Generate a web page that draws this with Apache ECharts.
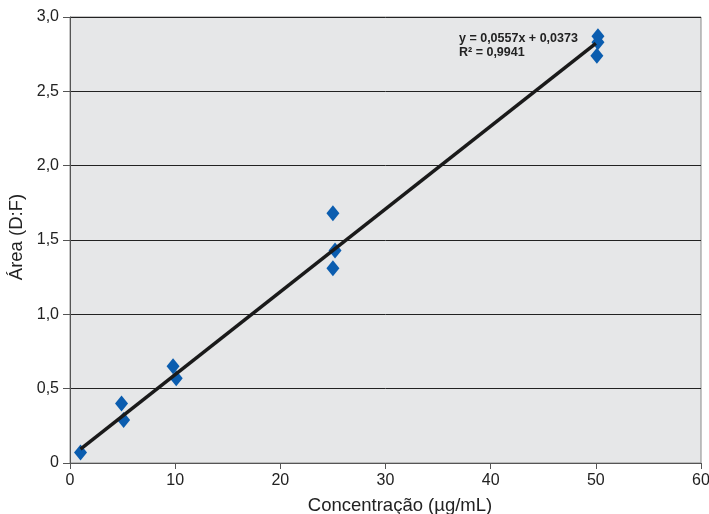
<!DOCTYPE html>
<html><head><meta charset="utf-8">
<script src="https://cdn.jsdelivr.net/npm/echarts@6/dist/echarts.min.js"></script>
<style>html,body{margin:0;padding:0;background:#fff}#c{width:709px;height:514px}</style>
</head><body><div id="c"></div>
<script>
const concX = [1.0, 4.9, 5.1, 9.8, 10.1, 25.0, 25.2, 25.0, 50.2, 50.2, 50.1];
const areaY = [0.07, 0.40, 0.29, 0.65, 0.57, 1.68, 1.43, 1.31, 2.87, 2.83, 2.74];
const slope = 0.0557, intercept = 0.0373;
const trendX = [1, 50];
const eqLines = ['y = 0,0557x + 0,0373', 'R² = 0,9941'];
const xTitle = 'Concentração (µg/mL)';
const yTitle = 'Área (D:F)';

const pts = concX.map((x, i) => [x, areaY[i]]);
const trend = trendX.map(x => [x, slope * x + intercept]);
const font = '"Liberation Sans", Arial, sans-serif';
const chart = echarts.init(document.getElementById('c'));
chart.setOption({
  animation: false,
  grid: { left: 70, right: 8, top: 17, bottom: 51, outerBoundsMode: 'none', containLabel: false,
    show: true, backgroundColor: '#e6e7e8', borderColor: '#8a8a8a', borderWidth: 1 },
  xAxis: {
    type: 'value', min: 0, max: 60, interval: 10,
    axisLine: { lineStyle: { color: '#555', width: 1 } },
    axisTick: { show: true, inside: false, length: 6, lineStyle: { color: '#555' } },
    axisLabel: { fontFamily: font, fontSize: 16, color: '#222', margin: 10 },
    splitLine: { show: false }
  },
  yAxis: {
    type: 'value', min: 0, max: 3, interval: 0.5,
    axisLine: { show: true, lineStyle: { color: '#555', width: 1 } },
    axisTick: { show: true, inside: false, length: 7, lineStyle: { color: '#555' } },
    axisLabel: { fontFamily: font, fontSize: 16, color: '#222', margin: 11,
      formatter: v => v === 0 ? '0' : v.toFixed(1).replace('.', ',') },
    splitLine: { show: true, lineStyle: { color: '#222', width: 1 } }
  },
  series: [
    { type: 'scatter', data: pts, symbol: 'diamond', symbolSize: [13, 16],
      itemStyle: { color: '#0b5daf', opacity: 1 }, z: 2 },
    { type: 'line', data: trend, symbol: 'none', lineStyle: { color: '#1a1a1a', width: 3.5 }, z: 3 }
  ],
  graphic: [
    { type: 'text', left: 459, top: 32, style: { text: eqLines.join('\n'), font: 'bold 12.5px ' + font, fill: '#222', lineHeight: 14 } },
    { type: 'text', x: 400, y: 506, style: { text: xTitle, font: '18.5px ' + font, fill: '#222', align: 'center', verticalAlign: 'middle' } },
    { type: 'text', x: 17, y: 237, rotation: Math.PI / 2, style: { text: yTitle, font: '18.5px ' + font, fill: '#222', align: 'center', verticalAlign: 'middle' } }
  ]
});
</script></body></html>
